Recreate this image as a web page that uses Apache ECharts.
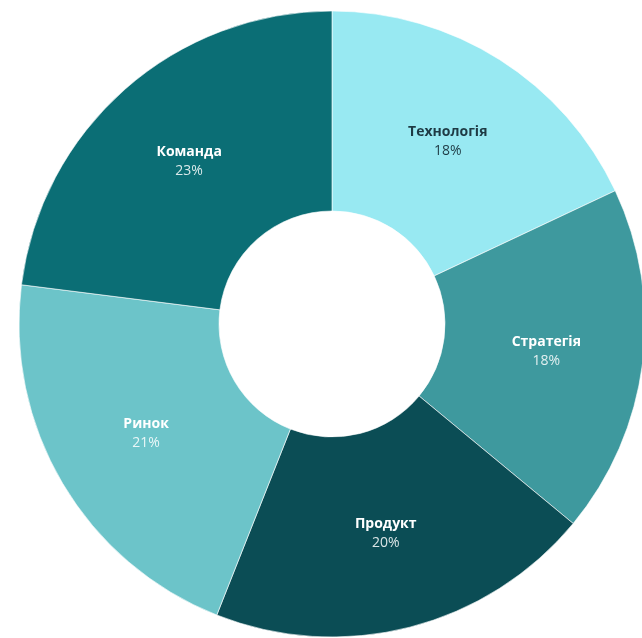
<!DOCTYPE html>
<html>
<head>
<meta charset="utf-8">
<script src="https://cdn.jsdelivr.net/npm/echarts@6/dist/echarts.min.js"></script>
<style>
  html, body { margin: 0; padding: 0; background: #fff; }
  #chart { width: 642px; height: 638px; }
</style>
</head>
<body>
<div id="chart"></div>
<script>
// дані
const categories = ['Технологія', 'Стратегія', 'Продукт', 'Ринок', 'Команда']
const shares = [18, 18, 20, 21, 23]
const colors = ['#98E9F2', '#3E999E', '#0B4D55', '#6CC4C9', '#0B6E75']
const labelColors = ['#1E3A44', '#FFFFFF', '#FFFFFF', '#FFFFFF', '#FFFFFF']
const pctColors = ['#1E3A44', 'rgba(255,255,255,0.85)', 'rgba(255,255,255,0.85)', 'rgba(255,255,255,0.85)', 'rgba(255,255,255,0.85)']

const chart = echarts.init(document.getElementById('chart'))

const seriesData = categories.map((name, i) => ({
  name,
  value: shares[i],
  itemStyle: { color: colors[i] },
  label: {
    rich: {
      n: { color: labelColors[i], fontWeight: 'bold', fontSize: 14, lineHeight: 19, fontFamily: 'Open Sans' },
      p: { color: pctColors[i], fontSize: 14, lineHeight: 19, fontFamily: 'Open Sans' },
    },
  },
}))

chart.setOption({
  backgroundColor: '#ffffff',
  animation: false,
  series: [
    {
      type: 'pie',
      center: [332, 324],
      radius: [113, 313],
      startAngle: 90,
      clockwise: true,
      itemStyle: {
        borderColor: 'rgba(255,255,255,0.6)',
        borderWidth: 1,
      },
      label: {
        show: true,
        position: 'inside',
        formatter: '{n|{b}}\n{p|{d}%}',
      },
      labelLine: { show: false },
      data: seriesData,
    },
  ],
})
</script>
</body>
</html>
